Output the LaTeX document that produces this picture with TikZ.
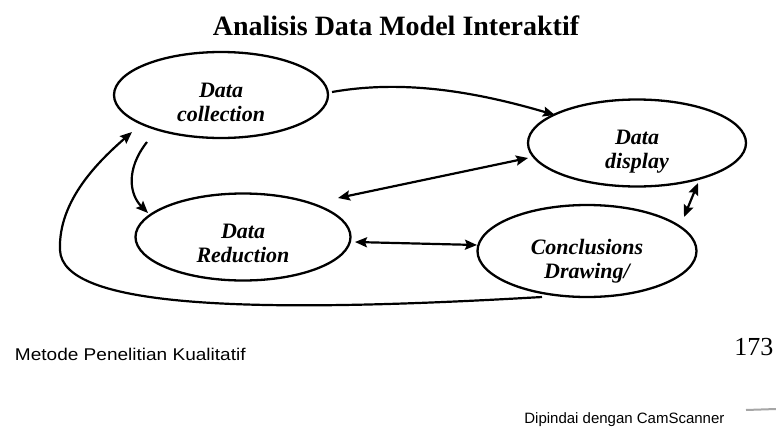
\documentclass[tikz,border=0pt]{standalone}
\usepackage{fontspec}
\setmainfont{Liberation Serif}
\newfontfamily\footsans{Liberation Sans}
\usetikzlibrary{arrows.meta,shapes.geometric,calc}
\begin{document}
\begin{tikzpicture}[x=1pt,y=-1pt,
  stage/.style={draw, ellipse, line width=2.3pt, inner sep=0pt},
  stagetext/.style={align=center, inner sep=0pt,
    font=\bfseries\itshape\fontsize{22}{24}\selectfont},
  flow/.style={line width=2.2pt, -{Stealth[length=12pt,width=10pt,inset=2pt]}},
  both/.style={line width=2.2pt, {Stealth[length=12pt,width=10pt,inset=2pt]}-{Stealth[length=12pt,width=10pt,inset=2pt]}}]
\useasboundingbox[fill=white] (0,0) rectangle (776,434);

% title
\node[anchor=base, font=\bfseries\fontsize{28}{32}\selectfont] (title) at (396,35) {Analisis Data Model Interaktif};

% the four stages
\node[stage, minimum width=214pt, minimum height=86pt] (col) at (221,95) {};
\node[stage, minimum width=218pt, minimum height=87pt] (disp) at (637,143) {};
\node[stage, minimum width=215pt, minimum height=87pt] (red) at (243,237) {};
\node[stage, minimum width=219pt, minimum height=92pt] (con) at (587,251) {};
\node[stagetext] (colT) at ($(col)+(0,7)$) {Data\\collection};
\node[stagetext] (dispT) at ($(disp)+(0,9)$) {Data\\display};
\node[stagetext] (redT) at ($(red)+(0,6)$) {Data\\Reduction};
\node[stagetext] (conT) at ($(con)+(0,10)$) {Conclusions\\Drawing/};

% collection -> display
\draw[flow] ($(col)+(111,-3)$) .. controls (400,80) and (470,90) .. ($(disp)+(-82,-28)$);
% collection -> reduction
\draw[flow] ($(col)+(-74,47)$) .. controls (125,170) and (130,195) .. ($(red)+(-95,-24)$);
% reduction <-> display
\draw[both] ($(red)+(95,-39)$) -- ($(disp)+(-109,15)$);
% reduction <-> conclusions
\draw[both] ($(red)+(112,5)$) -- ($(con)+(-110,-6)$);
% display <-> conclusions
\draw[both] ($(disp)+(61,40)$) -- ($(con)+(97,-34)$);
% conclusions -> collection (feedback loop)
\draw[flow] ($(con)+(-45,46)$) .. controls (250,314) and (62,308) .. (60,250)
  .. controls (58,200) and (100,160) .. ($(col)+(-89,37)$);

% page footer
\node[anchor=base west, font=\footsans\fontsize{17}{20}\selectfont, xscale=1.12] (book) at (11,360) {Metode Penelitian Kualitatif};
\node[anchor=base east, font=\fontsize{26}{30}\selectfont] (page) at (777,355) {173};
\node[anchor=base east, font=\footsans\fontsize{15}{18}\selectfont] (scan) at (728,423) {Dipindai dengan CamScanner};
\draw[line width=2pt, gray!70] (746,410) -- (776,409);
\end{tikzpicture}
\end{document}
